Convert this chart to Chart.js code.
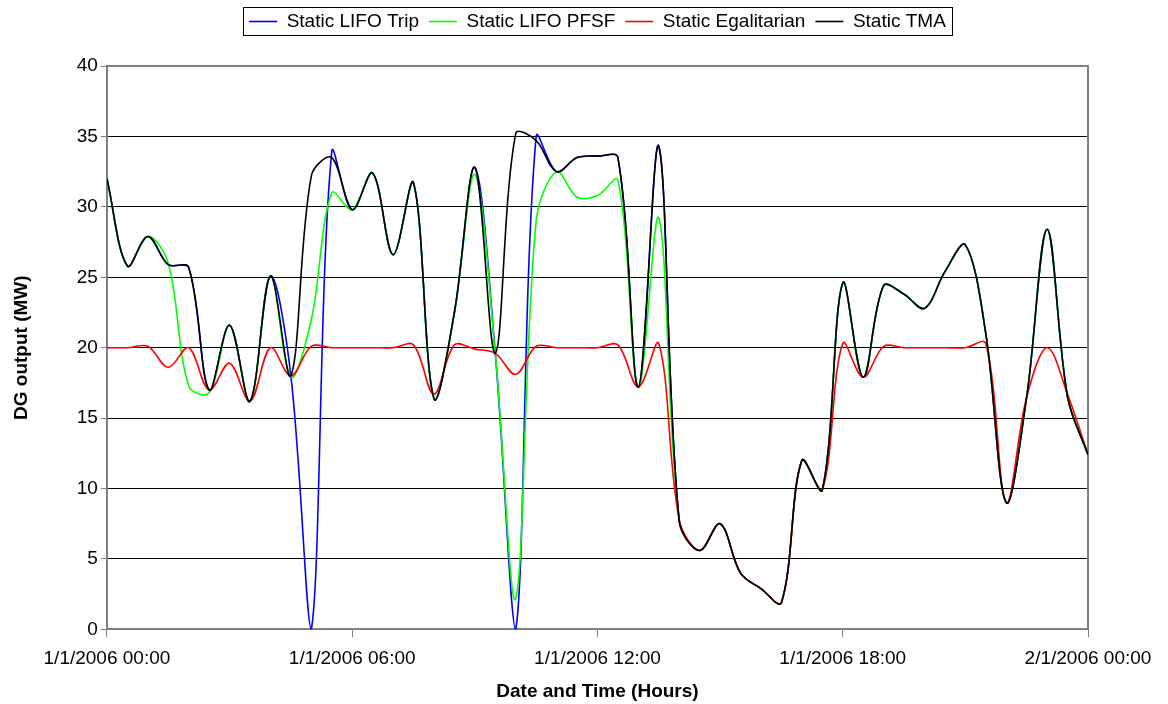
<!DOCTYPE html>
<html>
<head>
<meta charset="utf-8">
<script src="https://cdn.jsdelivr.net/npm/chart.js@4.4.1/dist/chart.umd.min.js"></script>
<style>
  html, body { margin: 0; padding: 0; background: #fff; }
  #wrap { width: 1168px; height: 704px; }
</style>
</head>
<body>
<div id="wrap"><canvas id="dgChart" width="1168" height="704"></canvas></div>
<script>
// hours since 1/1/2006 00:00, half-hour steps
var hours = [0, 0.5, 1, 1.5, 2, 2.5, 3, 3.5, 4, 4.5, 5, 5.5, 6, 6.5, 7, 7.5, 8, 8.5, 9, 9.5,
  10, 10.5, 11, 11.5, 12, 12.5, 13, 13.5, 14, 14.5, 15, 15.5, 16, 16.5, 17, 17.5, 18, 18.5, 19, 19.5,
  20, 20.5, 21, 21.5, 22, 22.5, 23, 23.5, 24];

var tickLabels = ['1/1/2006 00:00', '1/1/2006 06:00', '1/1/2006 12:00', '1/1/2006 18:00', '2/1/2006 00:00'];

var lifoTrip = [32.0, 25.8, 27.9, 25.9, 25.7, 17.0, 21.6, 16.2, 25.1, 18.0, 0.0, 33.9, 29.8, 32.4, 26.6, 31.7, 16.4, 22.5, 32.8, 19.6,
  0.0, 35.0, 32.5, 33.5, 33.6, 33.5, 17.2, 34.3, 7.7, 5.6, 7.5, 4.0, 2.9, 1.9, 12.0, 9.9, 24.6, 17.9, 24.4, 23.8,
  22.8, 25.4, 27.3, 21.0, 9.0, 16.5, 28.4, 16.5, 12.4];

var lifoPfsf = [32.0, 25.8, 27.9, 26.0, 17.3, 16.8, 21.6, 16.2, 25.1, 17.9, 22.0, 31.0, 29.8, 32.4, 26.6, 31.7, 16.4, 22.5, 32.3, 19.6,
  2.2, 29.0, 32.5, 30.7, 30.8, 31.9, 17.2, 29.2, 7.7, 5.6, 7.5, 4.0, 2.9, 1.9, 12.0, 9.9, 24.6, 17.9, 24.4, 23.8,
  22.8, 25.4, 27.3, 21.0, 9.0, 16.5, 28.4, 16.5, 12.4];

var egalitarian = [20.0, 20.0, 20.1, 18.6, 20.0, 17.0, 18.9, 16.2, 20.0, 18.0, 20.1, 20.0, 20.0, 20.0, 20.0, 20.2, 16.7, 20.2, 19.9, 19.6,
  18.1, 20.1, 20.0, 20.0, 20.0, 20.2, 17.2, 20.3, 7.8, 5.6, 7.5, 4.0, 2.9, 1.9, 12.0, 9.9, 20.3, 17.9, 20.1, 20.0,
  20.0, 20.0, 20.0, 20.3, 9.0, 16.5, 20.0, 16.7, 12.4];

var tma = [32.0, 25.8, 27.9, 25.9, 25.7, 17.0, 21.6, 16.2, 25.1, 18.0, 32.2, 33.5, 29.8, 32.4, 26.6, 31.7, 16.4, 22.5, 32.8, 19.6,
  35.2, 34.7, 32.5, 33.5, 33.6, 33.5, 17.2, 34.3, 7.7, 5.6, 7.5, 4.0, 2.9, 1.9, 12.0, 9.9, 24.6, 17.9, 24.4, 23.8,
  22.8, 25.4, 27.3, 21.0, 9.0, 16.5, 28.4, 16.5, 12.4];

function toPoints(arr) {
  return arr.map(function (v, i) { return { x: hours[i], y: v }; });
}

function series(label, values, color, order) {
  return {
    label: label,
    data: toPoints(values),
    borderColor: color,
    backgroundColor: color,
    borderWidth: 1.6,
    pointRadius: 0,
    tension: 0.35,
    order: order
  };
}

// box round the legend, like the Excel one, and some room under it
var legendFrame = {
  id: 'legendFrame',
  beforeLayout: function (chart) {
    var lg = chart.legend;
    if (lg && !lg._extraRoom) {
      var fit = lg.fit;
      lg.fit = function () { fit.call(this); this.height += 25; };
      lg._extraRoom = true;
    }
  },
  afterDraw: function (chart) {
    var boxes = chart.legend.legendHitBoxes;
    if (!boxes || !boxes.length) return;
    var first = boxes[0], last = boxes[boxes.length - 1];
    var ctx = chart.ctx;
    ctx.save();
    ctx.strokeStyle = '#000';
    ctx.lineWidth = 1;
    ctx.strokeRect(Math.round(first.left - 6) + 0.5, Math.round(first.top - 5) + 0.5,
      Math.round(last.left + last.width - first.left + 12), Math.round(first.height + 9));
    ctx.restore();
  }
};

// grey frame round the plot area
var plotFrame = {
  id: 'plotFrame',
  beforeDatasetsDraw: function (chart) {
    var a = chart.chartArea, ctx = chart.ctx;
    ctx.save();
    ctx.strokeStyle = '#808080';
    ctx.lineWidth = 2;
    ctx.beginPath();
    ctx.moveTo(a.left, a.top);
    ctx.lineTo(a.right, a.top);
    ctx.lineTo(a.right, a.bottom);
    ctx.stroke();
    ctx.restore();
  }
};

Chart.defaults.font.family = '"Liberation Sans", Arial, sans-serif';
Chart.defaults.font.size = 19;
Chart.defaults.color = '#000';

var ctx = document.getElementById('dgChart').getContext('2d');
var dgChart = new Chart(ctx, {
  type: 'line',
  data: {
    datasets: [
      series('Static LIFO Trip', lifoTrip, '#0000ff', 3),
      series('Static LIFO PFSF', lifoPfsf, '#00ff00', 2),
      series('Static Egalitarian', egalitarian, '#ff0000', 1),
      series('Static TMA', tma, '#000000', 0)
    ]
  },
  options: {
    responsive: false,
    animation: false,
    layout: { padding: { top: 2, right: 80, bottom: 0, left: 0 } },
    plugins: {
      tooltip: { enabled: false },
      legend: {
        position: 'top',
        fullSize: false,
        labels: {
          usePointStyle: true,
          pointStyle: 'line',
          pointStyleWidth: 28,
          padding: 10,
          sort: function (a, b) { return a.datasetIndex - b.datasetIndex; }
        }
      }
    },
    scales: {
      x: {
        type: 'linear',
        min: 0,
        max: 24,
        ticks: {
          stepSize: 6,
          autoSkip: false,
          maxRotation: 0,
          padding: 10,
          callback: function (v, i) { return tickLabels[i]; }
        },
        grid: { drawOnChartArea: false, tickLength: 8, color: '#808080' },
        border: { color: '#808080', width: 2 },
        title: {
          display: true,
          text: 'Date and Time (Hours)',
          font: { weight: 'bold' },
          padding: { top: 0, bottom: 1 }
        }
      },
      y: {
        min: 0,
        max: 40,
        ticks: { stepSize: 5, padding: 3 },
        grid: { color: '#000', lineWidth: 1, tickColor: '#808080', tickLength: 6 },
        border: { color: '#808080', width: 2 },
        title: {
          display: true,
          text: 'DG output (MW)',
          font: { weight: 'bold' },
          padding: { top: 10, bottom: 41 }
        }
      }
    }
  },
  plugins: [legendFrame, plotFrame]
});
</script>
</body>
</html>
